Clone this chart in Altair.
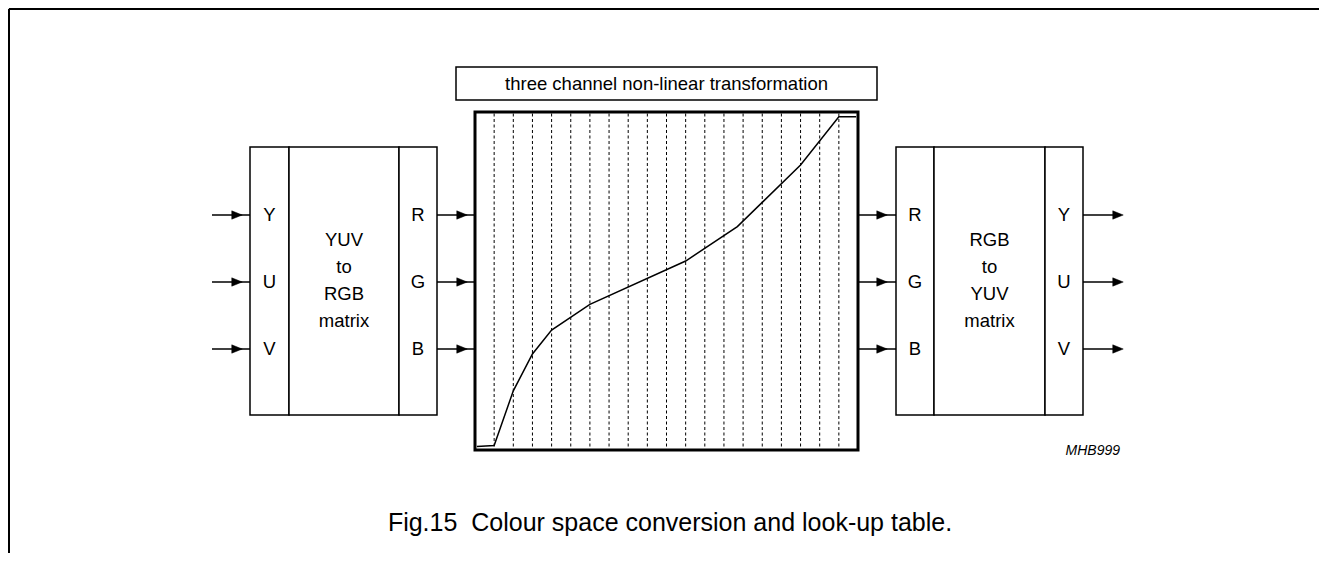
import altair as alt
import pandas as pd

# ---------------- data ----------------
# look-up-table curve: x in grid segments (0..20), y as fraction of full scale
lut_x = [0.1, 1.0, 2.0, 3.0, 4.0, 6.0, 11.0, 13.7, 17.0, 19.0, 19.9]
lut_y = [0.010, 0.013, 0.175, 0.284, 0.355, 0.431, 0.559, 0.661, 0.843, 0.986, 0.986]
grid_lines = list(range(1, 20))

left_in = ["Y", "U", "V"]
left_out = ["R", "G", "B"]
right_in = ["R", "G", "B"]
right_out = ["Y", "U", "V"]
left_mid = ["YUV", "to", "RGB", "matrix"]
right_mid = ["RGB", "to", "YUV", "matrix"]
title_text = "three channel non-linear transformation"
caption_text = "Fig.15\u00a0 Colour space conversion and look-up table."
code_text = "MHB999"

# ---------------- layout (page pixels) ----------------
W, H = 1311, 545
FONT = "Liberation Sans"
LUT = dict(x=475, x2=858, y=112, y2=450)
ROWS = [215, 282, 349]
MID_ROWS = [240, 267, 294, 321]

xs = alt.Scale(domain=[8, 8 + W], nice=False, zero=False)
ys = alt.Scale(domain=[8, 8 + H], nice=False, zero=False, reverse=True)


def X(f="x"):
    return alt.X(f"{f}:Q", scale=xs, axis=None)


def Y(f="y"):
    return alt.Y(f"{f}:Q", scale=ys, axis=None)


# boxes
box_df = pd.DataFrame({
    "x": [250, 289, 399, 896, 934, 1045, 456],
    "x2": [289, 399, 437, 934, 1045, 1083, 877],
    "y": [147] * 6 + [67],
    "y2": [415] * 6 + [100],
})
boxes = alt.Chart(box_df).mark_rect(fill="white", stroke="black", strokeWidth=1.5).encode(
    x=X(), x2="x2:Q", y=Y(), y2="y2:Q")

lut_df = pd.DataFrame([LUT])
lut_box = alt.Chart(lut_df).mark_rect(fill="white", stroke="black", strokeWidth=3).encode(
    x=X(), x2="x2:Q", y=Y(), y2="y2:Q")

seg = (LUT["x2"] - LUT["x"]) / 20.0
span = LUT["y2"] - LUT["y"]
grid_df = pd.DataFrame({
    "x": [LUT["x"] + g * seg for g in grid_lines],
    "y": [LUT["y"] + 1.5] * len(grid_lines),
    "y2": [LUT["y2"] - 1.5] * len(grid_lines),
})
grid = alt.Chart(grid_df).mark_rule(stroke="black", strokeWidth=1, strokeDash=[3, 2.5]).encode(
    x=X(), y=Y(), y2="y2:Q")

curve_df = pd.DataFrame({
    "x": [LUT["x"] + u * seg for u in lut_x],
    "y": [LUT["y2"] - f * span for f in lut_y],
    "o": list(range(len(lut_x))),
})
curve = alt.Chart(curve_df).mark_line(stroke="black", strokeWidth=1.5).encode(
    x=X(), y=Y(), order="o:Q")

# arrows
arrow_segs = [(212, 250, 242), (437, 475, 467), (858, 896, 887), (1083, 1120, 1123)]
arr_rows = []
head_rows = []
for (a, b, tip) in arrow_segs:
    for r in ROWS:
        arr_rows.append({"x": a, "x2": b, "y": r})
        head_rows.append({"x": tip - 5, "y": r})
arr = alt.Chart(pd.DataFrame(arr_rows)).mark_rule(stroke="black", strokeWidth=1.5).encode(
    x=X(), x2="x2:Q", y=Y())
heads = alt.Chart(pd.DataFrame(head_rows)).mark_point(
    shape="M-1,-0.8L1,0L-1,0.8Z", filled=True, fill="black", stroke="black",
    strokeWidth=0.5, size=110, opacity=1).encode(x=X(), y=Y())

# texts
txt = []
for lab, r in zip(left_in, ROWS):
    txt.append({"t": lab, "x": 269.5, "y": r})
for lab, r in zip(left_out, ROWS):
    txt.append({"t": lab, "x": 418, "y": r})
for lab, r in zip(right_in, ROWS):
    txt.append({"t": lab, "x": 915, "y": r})
for lab, r in zip(right_out, ROWS):
    txt.append({"t": lab, "x": 1064, "y": r})
for lab, r in zip(left_mid, MID_ROWS):
    txt.append({"t": lab, "x": 344, "y": r})
for lab, r in zip(right_mid, MID_ROWS):
    txt.append({"t": lab, "x": 989.5, "y": r})
txt.append({"t": title_text, "x": 666.5, "y": 84})
labels = alt.Chart(pd.DataFrame(txt)).mark_text(
    font=FONT, fontSize=18.5, color="black", align="center", baseline="middle").encode(
    x=X(), y=Y(), text="t:N")

cap = alt.Chart(pd.DataFrame([{"t": caption_text, "x": 670, "y": 531}])).mark_text(
    font=FONT, fontSize=25, color="black", align="center", baseline="alphabetic").encode(
    x=X(), y=Y(), text="t:N")

code = alt.Chart(pd.DataFrame([{"t": code_text, "x": 1120, "y": 451}])).mark_text(
    font=FONT, fontSize=14, fontStyle="italic", color="black", align="right",
    baseline="middle").encode(x=X(), y=Y(), text="t:N")

# outer frame (top and left edges)
frame_df = pd.DataFrame([
    {"x": 9, "x2": 8 + W, "y": 9, "y2": 9},
    {"x": 9, "x2": 9, "y": 9, "y2": 8 + H},
])
frame = alt.Chart(frame_df).mark_rule(stroke="black", strokeWidth=2).encode(
    x=X(), x2="x2:Q", y=Y(), y2="y2:Q")

chart = alt.layer(frame, boxes, lut_box, grid, curve, arr, heads, labels, cap, code).properties(
    width=W, height=H, padding=0,
    autosize=alt.AutoSizeParams(type="none"),
).configure_view(stroke=None).configure(background="white")

chart.save("out.html", embed_options={"renderer": "svg", "actions": False})
